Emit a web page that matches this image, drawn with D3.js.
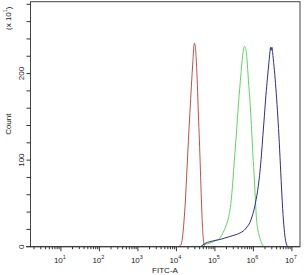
<!DOCTYPE html>
<meta charset="utf-8">
<style>
    body { margin: 0; background: #fff; }
    svg { display: block; font-family: "Liberation Sans", Arial, sans-serif; }
    .axis line, .axis path { stroke: #333; }
    .lbl { fill: #222; font-size: 8px; }
</style>
<svg width="305" height="275"></svg>
<script src="https://d3js.org/d3.v7.min.js"></script>
<script>
    // log10(FITC-A) positions and counts (x10^1)
    var redLog   = [4.039, 4.117, 4.156, 4.195, 4.234, 4.273, 4.312, 4.351, 4.390, 4.429, 4.455, 4.468,
                    4.494, 4.519, 4.545, 4.571, 4.597, 4.623, 4.649, 4.675, 4.701, 4.740];
    var redCount = [0, 2, 10, 28.5, 54, 88.5, 123, 155, 186.5, 215, 232.6, 235,
                    230, 213, 186.5, 152, 123, 88.5, 54, 25, 7.7, 0];

    var greenLog   = [4.610, 4.740, 4.870, 5.000, 5.130, 5.208, 5.286, 5.351, 5.390, 5.429, 5.468, 5.506,
                      5.545, 5.584, 5.623, 5.662, 5.701, 5.740, 5.766, 5.792, 5.831, 5.870, 5.909, 5.948,
                      5.987, 6.026, 6.052, 6.078, 6.117, 6.169, 6.221, 6.273];
    var greenCount = [0, 2.5, 4.3, 6.6, 10, 15.8, 23.9, 33.1, 42.3, 56.2, 76.9, 100,
                      123, 148, 171.5, 192, 212, 227, 231.5, 230.3, 217.6, 192, 169, 140,
                      106, 77, 54, 33, 19.3, 10, 3.1, 0];

    var blueLog   = [4.636, 4.740, 4.870, 5.000, 5.130, 5.260, 5.390, 5.519, 5.649, 5.753, 5.831, 5.909,
                     5.961, 6.013, 6.052, 6.091, 6.130, 6.169, 6.208, 6.247, 6.286, 6.325, 6.364, 6.403,
                     6.429, 6.447, 6.462, 6.481, 6.506, 6.545, 6.584, 6.623, 6.662, 6.701, 6.740, 6.779,
                     6.818, 6.857, 6.896];
    var blueCount = [0, 3.7, 5.8, 7.2, 8.3, 10, 11.8, 13.5, 15.8, 18.7, 22.7, 27.9,
                     34.3, 42.3, 50.4, 59.6, 71.2, 86.2, 105.8, 128.8, 151.9, 175, 194.6, 213,
                     224.6, 230.3, 226.9, 230.3, 221.1, 203.8, 183, 157.7, 128.8, 94.2, 59.6, 30.8,
                     12.3, 3.1, 0];

    var yTicks = [0, 100, 200];
    var xDecades = [1, 2, 3, 4, 5, 6, 7];

    var svg = d3.select("svg");
    var plotL = 30.5, plotR = 300, plotT = 1.7, plotB = 246.7;

    var x = d3.scaleLog().domain([Math.pow(10, 0.21), Math.pow(10, 7.21)]).range([plotL, plotR]);
    var y = d3.scaleLinear().domain([0, 283]).range([plotB, plotT]);

    function series(logs, counts) {
        return logs.map(function(l, i) { return [Math.pow(10, l), counts[i]]; });
    }

    var line = d3.line()
        .x(function(d) { return x(d[0]); })
        .y(function(d) { return y(d[1]); })
        .curve(d3.curveMonotoneX);

    // frame
    svg.append("rect")
        .attr("x", plotL).attr("y", plotT)
        .attr("width", plotR - plotL).attr("height", plotB - plotT)
        .attr("fill", "none").attr("stroke", "#444").attr("stroke-width", 1);

    // curves
    svg.append("path").datum(series(redLog, redCount))
        .attr("d", line).attr("fill", "none").attr("stroke", "#c0504a").attr("stroke-width", 1);
    svg.append("path").datum(series(greenLog, greenCount))
        .attr("d", line).attr("fill", "none").attr("stroke", "#5fd65f").attr("stroke-width", 1);
    svg.append("path").datum(series(blueLog, blueCount))
        .attr("d", line).attr("fill", "none").attr("stroke", "#2e2e88").attr("stroke-width", 1);

    // x axis: minor ticks
    var minor = [];
    for (var k = 0; k <= 7; k++) {
        for (var m = 2; m <= 9; m++) {
            var v = m * Math.pow(10, k);
            if (v >= x.domain()[0] && v <= x.domain()[1]) minor.push(v);
        }
    }
    var xAxis = svg.append("g").attr("class", "axis");
    xAxis.append("line").attr("x1", 26).attr("x2", plotR).attr("y1", plotB).attr("y2", plotB);
    xAxis.selectAll(".mn").data(minor).enter().append("line")
        .attr("x1", function(d) { return x(d); }).attr("x2", function(d) { return x(d); })
        .attr("y1", plotB).attr("y2", plotB + 2.5);
    xAxis.selectAll(".mj").data(xDecades).enter().append("line")
        .attr("x1", function(d) { return x(Math.pow(10, d)); }).attr("x2", function(d) { return x(Math.pow(10, d)); })
        .attr("y1", plotB).attr("y2", plotB + 4.5);

    var xl = svg.selectAll(".xl").data(xDecades).enter().append("text")
        .attr("class", "lbl")
        .attr("x", function(d) { return x(Math.pow(10, d)) - 1; })
        .attr("y", 262.5)
        .attr("text-anchor", "middle");
    xl.append("tspan").text("10");
    xl.append("tspan").attr("font-size", "5.5px").attr("dy", -4).text(function(d) { return d; });

    svg.append("text").attr("class", "lbl")
        .attr("x", 165).attr("y", 272.5)
        .attr("text-anchor", "middle").attr("font-size", "8.5px")
        .text("FITC-A");

    // y axis
    var yAxis = svg.append("g").attr("class", "axis");
    yAxis.selectAll("line").data(d3.range(0, 281, 20)).enter().append("line")
        .attr("x1", plotL - 4).attr("x2", plotL)
        .attr("y1", function(d) { return y(d); }).attr("y2", function(d) { return y(d); });

    svg.selectAll(".yl").data(yTicks).enter().append("text")
        .attr("class", "lbl")
        .attr("transform", function(d) { return "translate(23.5," + y(d) + ") rotate(-90)"; })
        .attr("text-anchor", "middle")
        .text(function(d) { return d; });

    svg.append("text").attr("class", "lbl")
        .attr("transform", "translate(10.5," + ((plotT + plotB) / 2) + ") rotate(-90)")
        .attr("text-anchor", "middle").attr("font-size", "8.5px")
        .text("Count");

    var unit = svg.append("text").attr("class", "lbl")
        .attr("transform", "translate(10.5,30) rotate(-90)")
        .attr("text-anchor", "start");
    unit.append("tspan").text("(x 10");
    unit.append("tspan").attr("font-size", "5.5px").attr("dy", -4).text("1");
    unit.append("tspan").attr("dy", 4).text(")");
</script>
